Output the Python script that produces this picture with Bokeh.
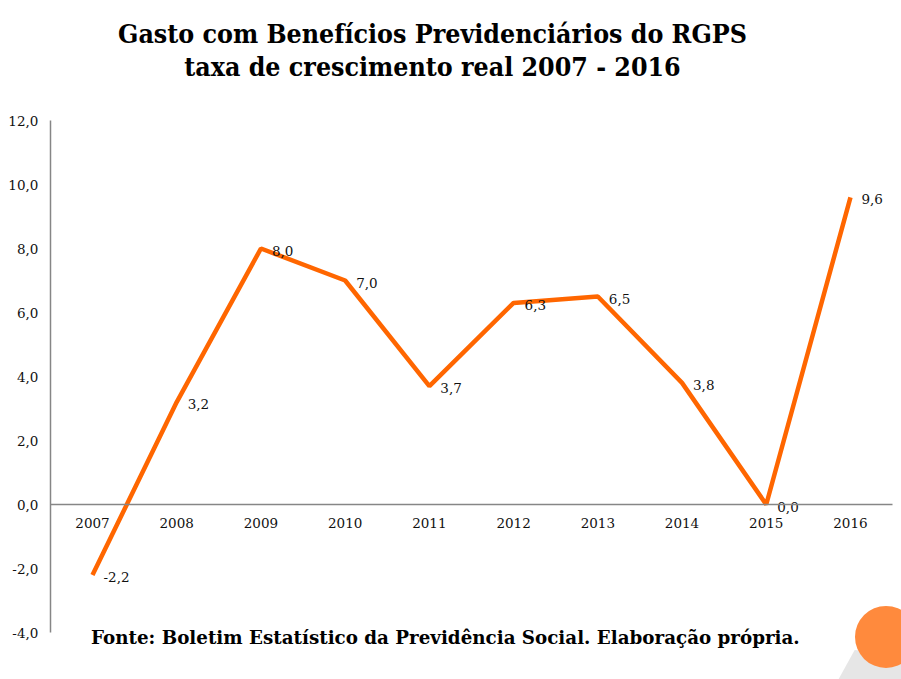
from bokeh.plotting import figure
from bokeh.models import Range1d, FixedTicker, ColumnDataSource, Label
from bokeh.core.properties import value
from bokeh.embed import file_html
from bokeh.resources import INLINE

# ---- data ----
years = [2007, 2008, 2009, 2010, 2011, 2012, 2013, 2014, 2015, 2016]
growth = [-2.2, 3.2, 8.0, 7.0, 3.7, 6.3, 6.5, 3.8, 0.0, 9.6]
y_ticks = [-4, -2, 0, 2, 4, 6, 8, 10, 12]
y_tick_labels = ["-4,0", "-2,0", "0,0", "2,0", "4,0", "6,0", "8,0", "10,0", "12,0"]
point_labels = [f"{v:.1f}".replace(".", ",") for v in growth]

title_1 = "Gasto com Benefícios Previdenciários do RGPS"
title_2 = "taxa de crescimento real 2007 - 2016"
footer = "Fonte: Boletim Estatístico da Previdência Social. Elaboração própria."

SERIF = "DejaVu Serif"
ORANGE = "#FF6600"
AXIS_GRAY = "#868686"

p = figure(width=901, height=679, output_backend="svg", toolbar_location=None,
           x_range=Range1d(2005.9076, 2016.606), y_range=Range1d(-5.46875, 15.75),
           min_border=0, min_border_left=0, min_border_right=0,
           min_border_top=0, min_border_bottom=0)
p.outline_line_color = None
p.xgrid.visible = False
p.ygrid.visible = False
p.background_fill_color = "white"
p.border_fill_color = "white"

# y axis
ya = p.yaxis[0]
ya.fixed_location = 2006.5
ya.bounds = (-4, 12)
ya.ticker = FixedTicker(ticks=y_ticks)
ya.major_label_overrides = {t: l for t, l in zip(y_ticks, y_tick_labels)}
ya.major_tick_line_color = None
ya.minor_tick_line_color = None
ya.major_tick_out = 0
ya.major_label_standoff = 12
ya.axis_line_color = AXIS_GRAY
ya.axis_line_width = 1.5
ya.major_label_text_font = SERIF
ya.major_label_text_font_size = "13.5px"
ya.major_label_text_color = "#111111"

# x axis
xa = p.xaxis[0]
xa.fixed_location = 0
xa.bounds = (2006.5, 2016.5)
xa.ticker = FixedTicker(ticks=years)
xa.major_label_overrides = {y: str(y) for y in years}
xa.major_tick_line_color = None
xa.minor_tick_line_color = None
xa.major_tick_out = 0
xa.major_label_standoff = 13
xa.axis_line_color = AXIS_GRAY
xa.axis_line_width = 1.5
xa.major_label_text_font = SERIF
xa.major_label_text_font_size = "13.5px"
xa.major_label_text_color = "#111111"

src = ColumnDataSource(dict(x=years, y=growth, lab=point_labels))
p.line("x", "y", source=src, line_color=ORANGE, line_width=4.5)
p.text("x", "y", text="lab", source=src, x_offset=11, y_offset=2,
       text_font=value(SERIF), text_font_size="13.5px", text_color="#111111",
       text_align="left", text_baseline="middle")

# decoration bottom-right
p.patch([2015.85, 2016.05, 2016.7, 2016.7], [-5.5, -4.55, -4.7, -5.5],
        fill_color="#e6e6e6", line_color=None)
p.scatter([2016.422], [-4.14], size=62, fill_color="#FF8A3D", line_color=None)

# titles
for txt, yy in [(title_1, 14.72), (title_2, 13.69)]:
    p.add_layout(Label(x=2011.037, y=yy, text=txt, text_align="center",
                       text_baseline="middle", text_font="DejaVu Serif Condensed",
                       text_font_style="bold", text_font_size="26.5px",
                       text_color="black"))
p.add_layout(Label(x=2011.19, y=-4.156, text=footer, text_align="center",
                   text_baseline="middle", text_font=SERIF, text_font_style="bold",
                   text_font_size="18.3px", text_color="black"))

open("out.html", "w").write(file_html(p, INLINE))
